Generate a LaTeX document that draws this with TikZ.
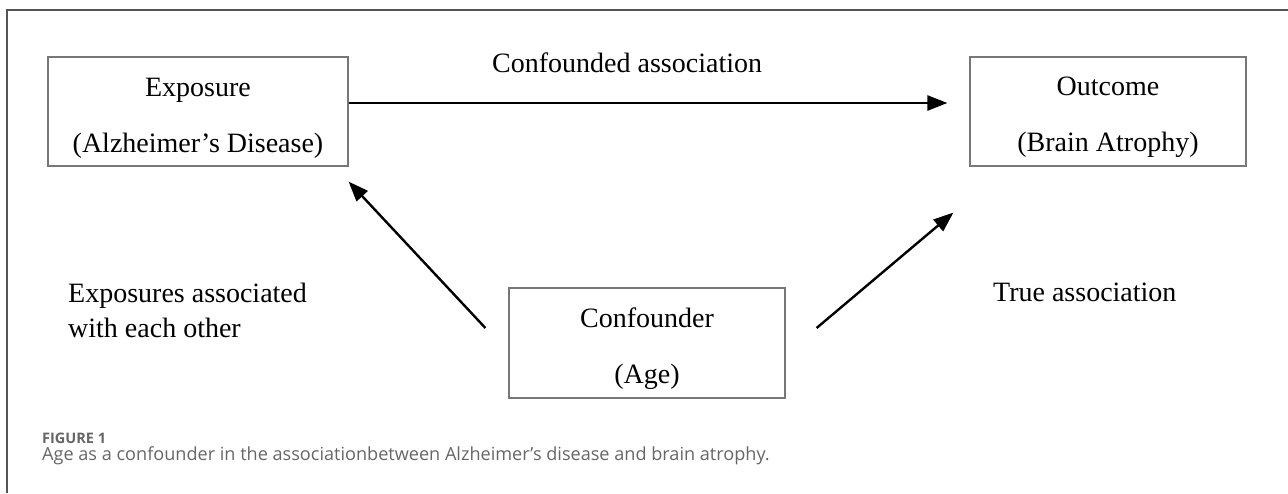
\documentclass[tikz,border=0pt]{standalone}
\usepackage{fontspec}
\setmainfont{Liberation Serif}
\newfontfamily\capfont{Open Sans}
\usetikzlibrary{arrows.meta}
\definecolor{framegray}{HTML}{555555}
\definecolor{boxgray}{HTML}{777777}
\definecolor{capgray}{HTML}{666666}
\newcommand\topgap{\rule{0pt}{31pt}}

\begin{document}
\begin{tikzpicture}[x=1pt, y=-1pt,
    box/.style={draw=boxgray, line width=1.2pt, minimum height=109pt, inner sep=0pt, align=center, font=\fontsize{28}{56}\selectfont},
    arr/.style={-{Triangle[length=20pt,width=15pt]}, line width=2.4pt},
    lbl/.style={inner sep=0pt, align=left, font=\fontsize{28}{35}\selectfont},
    captext/.style={inner sep=0pt, text=capgray, anchor=base west}]
    \useasboundingbox (0,0) rectangle (1288,493);
    \draw[framegray, line width=1.5pt] (1288,10) -- (7,10) -- (7,493);
    % boxes
    \node[box, minimum width=300pt] (expo) at (198,111.5) {\topgap Exposure\\(Alzheimer’s Disease)};
    \node[box, minimum width=276pt] (outcome) at (1108,111.5) {\topgap Outcome\\(Brain Atrophy)};
    \node[box, minimum width=276pt, minimum height=110pt] (conf) at (647,343) {\topgap Confounder\\(Age)};
    % arrows
    \draw[arr, shorten >=22pt] ([yshift=8.5pt]expo.east) -- ([yshift=8.5pt]outcome.west);
    \draw[arr] ([xshift=-23pt,yshift=15pt]conf.west) -- ([yshift=-15pt]expo.south east);
    \draw[arr] ([xshift=31pt,yshift=15pt]conf.east) -- ([xshift=-16pt,yshift=-46pt]outcome.south west);
    % labels
    \node[lbl, anchor=base west] (conflbl) at (492,72) {Confounded association};
    \node[lbl, anchor=base west] (explbl) at (68,337) {Exposures associated\\with each other};
    \node[lbl, anchor=base west] (truelbl) at (993,301) {True association};
    % caption
    \node[captext, font=\capfont\bfseries\fontsize{14.5}{15}\selectfont] (figlbl) at (42,443) {FIGURE 1};
    \node[captext, font=\capfont\fontsize{18.1}{19}\selectfont] (caption) at (42,460) {Age as a confounder in the associationbetween Alzheimer’s disease and brain atrophy.};
\end{tikzpicture}
\end{document}
